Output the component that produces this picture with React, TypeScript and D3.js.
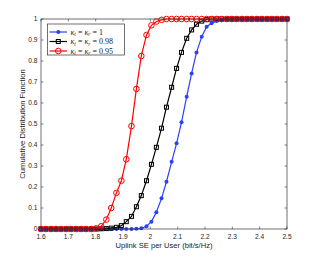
import * as d3 from 'd3';
import React from 'react';

// sample grid (linspace 1.6 .. 2.5, 50 points)
const seGrid = [
  1.6, 1.618, 1.637, 1.655, 1.673, 1.692, 1.71, 1.729, 1.747, 1.765,
  1.784, 1.802, 1.82, 1.839, 1.857, 1.876, 1.894, 1.912, 1.931, 1.949,
  1.967, 1.986, 2.004, 2.022, 2.041, 2.059, 2.078, 2.096, 2.114, 2.133,
  2.151, 2.169, 2.188, 2.206, 2.224, 2.243, 2.261, 2.28, 2.298, 2.316,
  2.335, 2.353, 2.371, 2.39, 2.408, 2.427, 2.445, 2.463, 2.482, 2.5,
];

const cdfKappa1 = [
  0, 0, 0, 0, 0, 0, 0, 0, 0, 0,
  0, 0, 0, 0, 0, 0, 0, 0, 0, 0.001,
  0.003, 0.013, 0.035, 0.08, 0.146, 0.225, 0.32, 0.408, 0.508, 0.63,
  0.741, 0.841, 0.916, 0.963, 0.98, 0.99, 0.997, 1, 1, 1,
  1, 1, 1, 1, 1, 1, 1, 1, 1, 1,
];

const cdfKappa098 = [
  0, 0, 0, 0, 0, 0, 0, 0, 0, 0,
  0, 0, 0.001, 0.002, 0.004, 0.008, 0.016, 0.035, 0.06, 0.106,
  0.159, 0.23, 0.308, 0.389, 0.48, 0.58, 0.675, 0.765, 0.841, 0.908,
  0.948, 0.975, 0.99, 0.997, 1, 1, 1, 1, 1, 1,
  1, 1, 1, 1, 1, 1, 1, 1, 1, 1,
];

const cdfKappa095 = [
  0, 0, 0, 0, 0, 0, 0, 0, 0, 0,
  0, 0.003, 0.013, 0.045, 0.1, 0.172, 0.23, 0.332, 0.49, 0.667,
  0.824, 0.924, 0.97, 0.988, 0.996, 1, 1, 1, 1, 1,
  1, 1, 1, 1, 1, 1, 1, 1, 1, 1,
  1, 1, 1, 1, 1, 1, 1, 1, 1, 1,
];

const xTicks = [1.6, 1.7, 1.8, 1.9, 2, 2.1, 2.2, 2.3, 2.4, 2.5];
const yTicks = [0, 0.1, 0.2, 0.3, 0.4, 0.5, 0.6, 0.7, 0.8, 0.9, 1];
const legendValues = ['1', '0.98', '0.95'];

const series = [
  { values: cdfKappa1, color: '#2b41ff', marker: 'dot' },
  { values: cdfKappa098, color: '#000000', marker: 'square' },
  { values: cdfKappa095, color: '#ff0000', marker: 'circle' },
];

const width = 318;
const height = 259;
const margin = { top: 19, right: 31, bottom: 30, left: 41 };

const Marker: React.FC<{ kind: string; x: number; y: number; color: string }> = ({ kind, x, y, color }) => {
  if (kind === 'dot') return <circle cx={x} cy={y} r={2} fill={color} />;
  if (kind === 'square')
    return <rect x={x - 2} y={y - 2} width={4} height={4} fill="none" stroke={color} strokeWidth={1} />;
  return <circle cx={x} cy={y} r={2.8} fill="none" stroke={color} strokeWidth={1} />;
};

const App: React.FC = () => {
  const x = d3.scaleLinear().domain([1.6, 2.5]).range([margin.left, width - margin.right]);
  const y = d3.scaleLinear().domain([0, 1]).range([height - margin.bottom, margin.top]);
  const line = d3
    .line<number>()
    .x((_, i) => x(seGrid[i]))
    .y((d) => y(d));

  const x0 = x.range()[0];
  const x1 = x.range()[1];
  const y0 = y.range()[0];
  const y1 = y.range()[1];
  const tl = 2.5;
  const axisColor = '#333';

  return (
    <svg
      width={width}
      height={height}
      style={{ position: 'absolute', left: 0, top: 0, background: '#fff' }}
      fontFamily="'Liberation Sans', Arial, sans-serif"
    >
      <rect x={x0} y={y1} width={x1 - x0} height={y0 - y1} fill="#fff" />

      {/* curves */}
      {series.map((s, si) => (
        <g key={si}>
          <path d={line(s.values) ?? ''} fill="none" stroke={s.color} strokeWidth={1.2} />
          {s.values.map((v, i) => (
            <Marker key={i} kind={s.marker} x={x(seGrid[i])} y={y(v)} color={s.color} />
          ))}
        </g>
      ))}

      {/* box + ticks */}
      <rect x={x0} y={y1} width={x1 - x0} height={y0 - y1} fill="none" stroke={axisColor} strokeWidth={0.7} />
      {xTicks.map((t) => (
        <g key={'x' + t}>
          <line x1={x(t)} x2={x(t)} y1={y0} y2={y0 - tl} stroke={axisColor} strokeWidth={0.6} />
          <line x1={x(t)} x2={x(t)} y1={y1} y2={y1 + tl} stroke={axisColor} strokeWidth={0.6} />
          <text x={x(t)} y={y0 + 9.5} fontSize={6.6} textAnchor="middle" fill="#222">
            {t === 2 ? '2' : t.toFixed(1)}
          </text>
        </g>
      ))}
      {yTicks.map((t) => (
        <g key={'y' + t}>
          <line x1={x0} x2={x0 + tl} y1={y(t)} y2={y(t)} stroke={axisColor} strokeWidth={0.6} />
          <line x1={x1} x2={x1 - tl} y1={y(t)} y2={y(t)} stroke={axisColor} strokeWidth={0.6} />
          <text x={x0 - 3.5} y={y(t) + 2.3} fontSize={6.6} textAnchor="end" fill="#222">
            {t === 0 || t === 1 ? String(t) : t.toFixed(1)}
          </text>
        </g>
      ))}

      {/* axis labels */}
      <text x={(x0 + x1) / 2} y={y0 + 19} fontSize={7.6} textAnchor="middle" fill="#222">
        Uplink SE per User (bit/s/Hz)
      </text>
      <text
        transform={`translate(25,${(y0 + y1) / 2}) rotate(-90)`}
        fontSize={7.6}
        textAnchor="middle"
        fill="#222"
      >
        Cumulative Distribution Function
      </text>

      {/* legend */}
      <g>
        <rect x={47.5} y={24} width={77} height={31} fill="#fff" stroke={axisColor} strokeWidth={0.7} />
        {series.map((s, i) => {
          const ly = 32 + i * 9.5;
          return (
            <g key={'lg' + i}>
              <line x1={49.5} x2={67} y1={ly} y2={ly} stroke={s.color} strokeWidth={1.2} />
              <Marker kind={s.marker} x={58.3} y={ly} color={s.color} />
              <text x={70.5} y={ly + 2.6} fontSize={8} fontFamily="'Liberation Serif', 'DejaVu Serif', serif" fill="#222">
                <tspan fontStyle="italic">κ</tspan>
                <tspan fontStyle="italic" fontSize={5.5} dy={1.5}>t</tspan>
                <tspan dy={-1.5}> = </tspan>
                <tspan fontStyle="italic">κ</tspan>
                <tspan fontStyle="italic" fontSize={5.5} dy={1.5}>r</tspan>
                <tspan dy={-1.5}> = {legendValues[i]}</tspan>
              </text>
            </g>
          );
        })}
      </g>
    </svg>
  );
};

export default App;
